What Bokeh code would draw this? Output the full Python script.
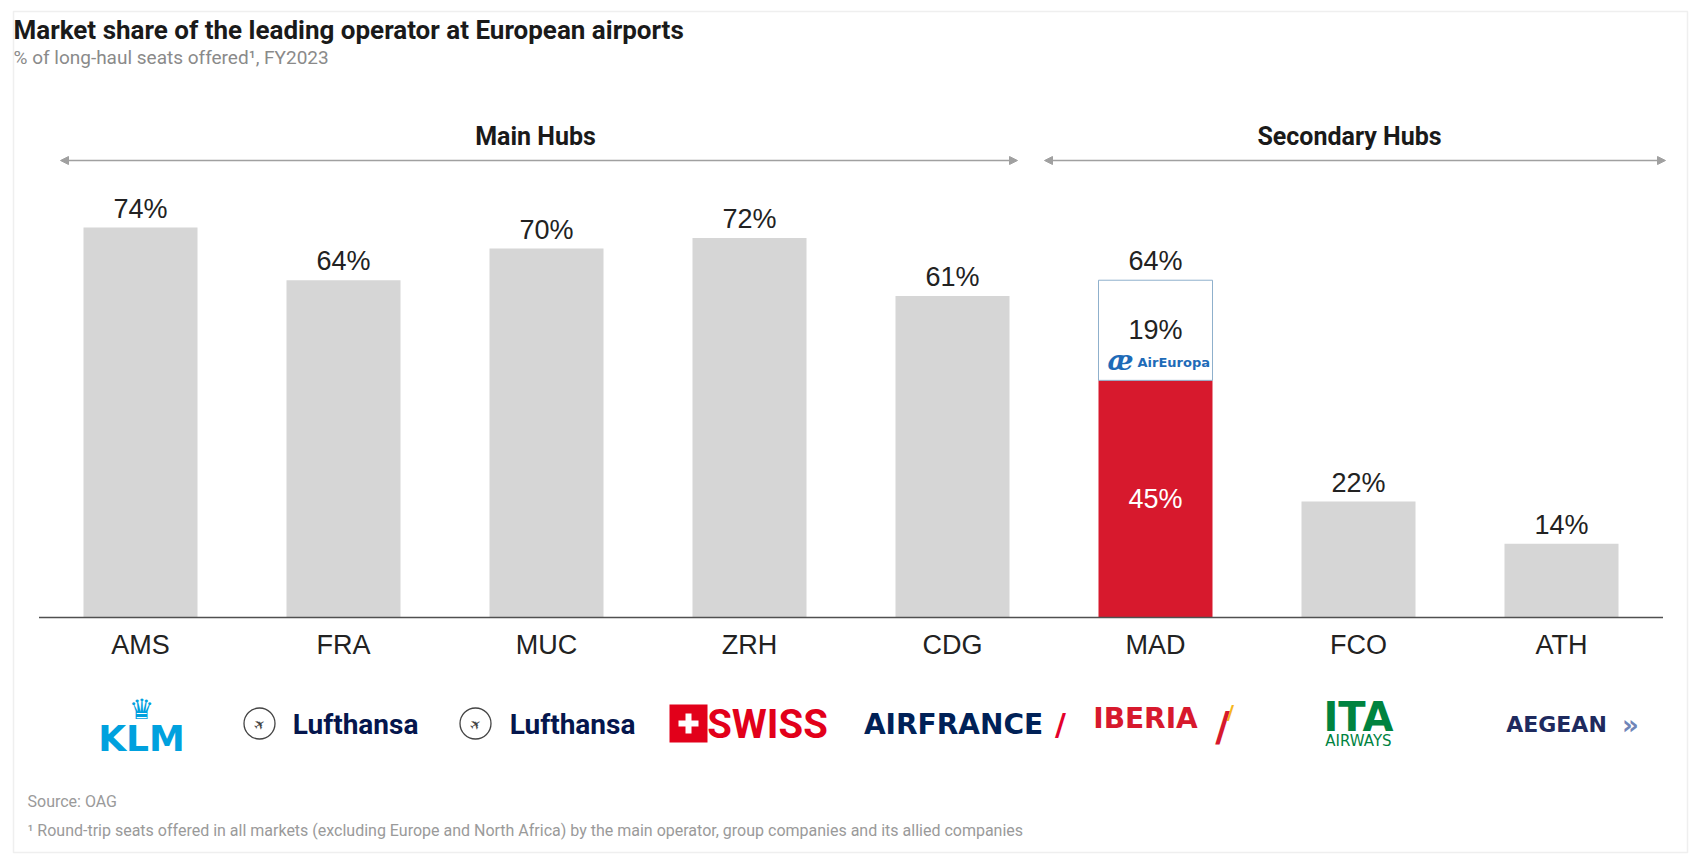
from bokeh.plotting import figure
from bokeh.models import Range1d, Arrow, NormalHead, BoxAnnotation
from bokeh.core.properties import value
from bokeh.embed import file_html
from bokeh.resources import INLINE

# ---------------- data ----------------
airports = ["AMS", "FRA", "MUC", "ZRH", "CDG", "MAD", "FCO", "ATH"]
share = [74, 64, 70, 72, 61, 64, 22, 14]
mad_iberia = 45
mad_aireuropa = 19
groups = ["Main Hubs", "Secondary Hubs"]
title = "Market share of the leading operator at European airports"
subtitle = "% of long-haul seats offered\u00b9, FY2023"
source = "Source: OAG"
footnote = ("\u00b9 Round-trip seats offered in all markets (excluding Europe and North Africa) "
            "by the main operator, group companies and its allied companies")

# ---------------- layout helpers (page pixels -> data) ----------------
PX_CAT = 203.0
PX_PCT = 5.27
X0 = 38.5
Y0 = 617.0


def X(px):
    return (px - X0) / PX_CAT


def Y(py):
    return (Y0 - py) / PX_PCT


W, H = 1698, 859
p = figure(width=W, height=H, x_range=Range1d(X(0), X(W)), y_range=Range1d(Y(H), Y(0)),
           x_axis_type=None, y_axis_type=None, toolbar_location=None, output_backend="svg",
           min_border=0, outline_line_color=None, background_fill_color="white",
           border_fill_color="white")
p.grid.visible = False


def txt(x, y, s, size, color, font="Roboto", style="normal", align="left", baseline="middle", angle=0):
    p.text(x=[X(x)], y=[Y(y)], text=[s], text_font=value(font), text_font_size=f"{size}px",
           text_color=color, text_font_style=style, text_align=align, text_baseline=baseline,
           angle=angle)


# frame border
p.add_layout(BoxAnnotation(left=X(13), right=X(1687), top=Y(11), bottom=Y(852),
                           fill_color=None, line_color="#c9c9c9", line_width=1.5))

# titles
txt(13, 29, title, 26, "#1a1a1a", style="bold")
txt(13, 57, subtitle, 19, "#8a8a8a")

# group headers + arrows
txt(535, 136, groups[0], 25, "#1a1a1a", style="bold", align="center")
txt(1349, 136, groups[1], 25, "#1a1a1a", style="bold", align="center")
for xs, xe in [(60, 1017), (1044, 1665)]:
    p.add_layout(Arrow(x_start=X(xs), y_start=Y(160), x_end=X(xe), y_end=Y(160),
                       line_color="#a0a0a0", line_width=1.5,
                       start=NormalHead(size=8, fill_color="#a0a0a0", line_color="#a0a0a0"),
                       end=NormalHead(size=8, fill_color="#a0a0a0", line_color="#a0a0a0")))

# bars
centers = [i + 0.5 for i in range(len(airports))]
BW = 114 / PX_CAT
gx = [c for c, a in zip(centers, airports) if a != "MAD"]
gy = [v for v, a in zip(share, airports) if a != "MAD"]
p.vbar(x=gx, top=gy, bottom=0, width=BW, fill_color="#d6d6d6", line_color=None)

mi = airports.index("MAD")
mc = centers[mi]
p.vbar(x=[mc], bottom=[0], top=[mad_iberia], width=BW, fill_color="#d7192d", line_color=None)
p.vbar(x=[mc], bottom=[mad_iberia], top=[mad_iberia + mad_aireuropa], width=BW,
       fill_color="white", line_color="#8fb0cc", line_width=1)

# axis line
p.segment(x0=[0], x1=[len(airports)], y0=[0], y1=[0], line_color="#505050", line_width=1.5)

# value labels
p.text(x=centers, y=[v + 19 / PX_PCT for v in share], text=[f"{v}%" for v in share],
       text_font=value("Liberation Sans"), text_font_size="27px", text_color="#222222",
       text_align="center", text_baseline="middle")
p.text(x=[mc], y=[mad_iberia / 2], text=[f"{mad_iberia}%"], text_font=value("Liberation Sans"),
       text_font_size="27px", text_color="white", text_align="center", text_baseline="middle")
p.text(x=[mc], y=[mad_iberia + mad_aireuropa / 2], text=[f"{mad_aireuropa}%"],
       text_font=value("Liberation Sans"), text_font_size="27px", text_color="#222222",
       text_align="center", text_baseline="middle")
# Air Europa mini-logo
txt(1120, 360, "\u00e6", 28, "#1e6bb8", font="DejaVu Serif", style="bold italic", align="center")
txt(1137, 362, "AirEuropa", 13, "#1e6bb8", font="DejaVu Sans", style="bold")

# category labels
p.text(x=centers, y=[Y(644)] * len(centers), text=airports, text_font=value("Liberation Sans"),
       text_font_size="27px", text_color="#222222", text_align="center", text_baseline="middle")

# operator logos (as styled text)
# KLM
txt(141, 709, "\u265b", 28, "#00a1de", font="DejaVu Sans", align="center")
txt(141, 738, "KLM", 36, "#00a1de", font="DejaVu Sans", style="bold", align="center")
# Lufthansa x2
for cx, tx in [(259, 355), (475, 572)]:
    p.scatter(x=[X(cx)], y=[Y(723)], marker="circle", size=31, fill_color=None,
              line_color="#444444", line_width=1.3)
    txt(cx, 724, "\u2708", 14, "#444444", font="DejaVu Sans", align="center", angle=0.6)
    txt(tx, 724, "Lufthansa", 28, "#05164d", style="bold", align="center")
# SWISS
p.scatter(x=[X(688)], y=[Y(723)], marker="square", size=38, fill_color="#e2001a", line_color=None)
p.scatter(x=[X(688)], y=[Y(723)], marker="cross", size=20, fill_color=None, line_color="white",
          line_width=6)
txt(767, 724, "SWISS", 40, "#e2001a", style="bold", align="center")
# AIR FRANCE
txt(953, 724, "AIRFRANCE", 28, "#002157", font="DejaVu Sans", style="bold", align="center")
txt(1060, 724, "/", 30, "#e4002b", font="DejaVu Sans", style="bold", align="center")
# IBERIA
txt(1145, 718, "IBERIA", 28, "#d7192d", font="DejaVu Sans", style="bold", align="center")
txt(1222, 726, "/", 40, "#d7192d", font="DejaVu Sans", style="bold", align="center")
txt(1230, 711, "/", 20, "#f6b61c", font="DejaVu Sans", style="bold", align="center")
# ITA Airways
txt(1358, 716, "ITA", 40, "#00833f", font="DejaVu Sans", style="bold", align="center")
txt(1358, 740, "AIRWAYS", 15, "#00833f", font="DejaVu Sans", align="center")
# AEGEAN
txt(1556, 724, "AEGEAN", 22, "#1e2a5e", font="DejaVu Sans", style="bold", align="center")
txt(1630, 724, "\u00bb", 26, "#6f85b8", font="DejaVu Sans", style="bold", align="center")

# footnotes
txt(27, 801, source, 16, "#9a9a9a")
txt(27, 830, footnote, 16, "#9a9a9a")

open("out.html", "w").write(file_html(p, INLINE))
